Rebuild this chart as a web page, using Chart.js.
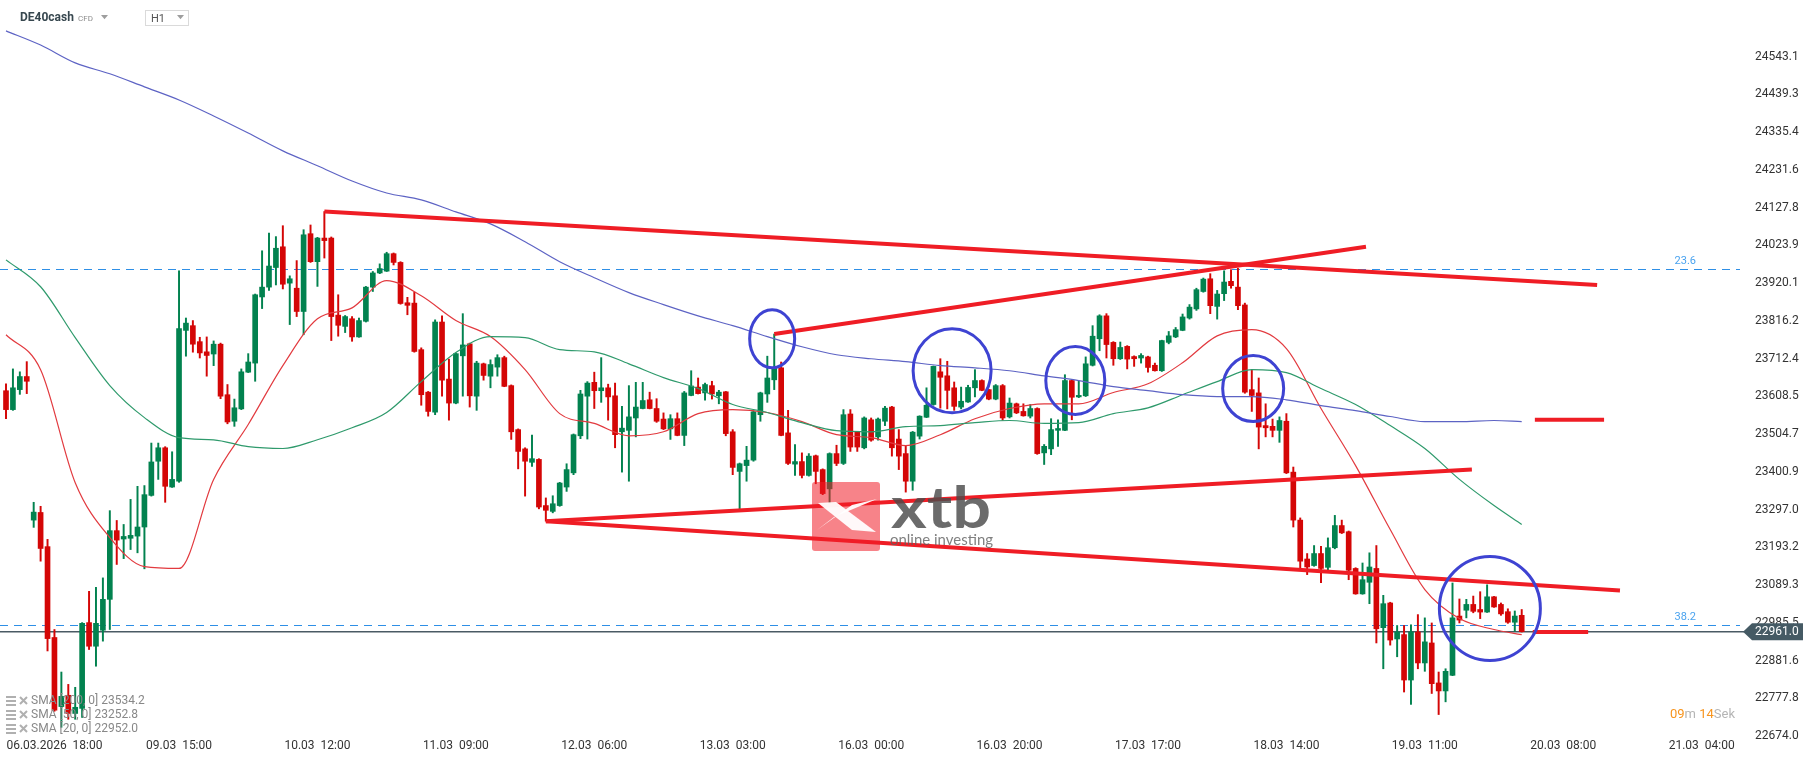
<!DOCTYPE html>
<html>
<head>
<meta charset="utf-8">
<title>DE40cash H1</title>
<script src="https://cdn.jsdelivr.net/npm/chart.js@4.4.1/dist/chart.umd.min.js"></script>
<style>
  html, body { margin: 0; padding: 0; background: #fff; overflow: hidden; }
  #wrap { width: 1815px; height: 761px; }
</style>
</head>
<body>
<div id="wrap"><canvas id="chart" width="1815" height="761"></canvas></div>
<script>
// DE40cash H1 candles (one entry per hour bar)
var opens = [
  23624, 23572, 23627, 23663, 23268, 23289, 23195, 22945, 22755, 22786,
  22736, 22750, 22986, 22921, 22965, 23050, 23239, 23216, 23218, 23224,
  23249, 23336, 23430, 23467, 23359, 23375, 23790, 23803, 23759, 23731,
  23725, 23752, 23613, 23540, 23574, 23675, 23700, 23882, 23909, 23963,
  24020, 23920, 23906, 23842, 24056, 23979, 24044, 24044, 23832, 23801,
  23822, 23772, 23815, 23909, 23948, 23953, 24001, 23977, 23866, 23865,
  23737, 23620, 23565, 23813, 23656, 23590, 23720, 23753, 23609, 23698,
  23664, 23689, 23715, 23638, 23517, 23464, 23427, 23435, 23308, 23292,
  23308, 23359, 23398, 23500, 23609, 23647, 23624, 23632, 23610, 23511,
  23515, 23549, 23575, 23599, 23575, 23546, 23519, 23547, 23501, 23611,
  23634, 23618, 23638, 23610, 23621, 23511, 23402, 23418, 23433, 23558,
  23615, 23654, 23687, 23508, 23422, 23429, 23391, 23445, 23407, 23354,
  23451, 23424, 23560, 23511, 23467, 23544, 23497, 23540, 23579, 23491,
  23451, 23375, 23499, 23551, 23586, 23676, 23665, 23632, 23579, 23593,
  23632, 23652, 23627, 23601, 23638, 23552, 23588, 23567, 23554, 23575,
  23453, 23464, 23515, 23515, 23652, 23607, 23610, 23694, 23767, 23830,
  23757, 23712, 23746, 23718, 23714, 23717, 23694, 23679, 23757, 23772,
  23790, 23824, 23849, 23897, 23932, 23856, 23891, 23925, 23909, 23860,
  23627, 23618, 23528, 23526, 23515, 23540, 23400, 23268, 23161, 23143,
  23176, 23138, 23192, 23253, 23236, 23135, 23065, 23097, 23135, 22972,
  23040, 22941, 22953, 22828, 22960, 22875, 22930, 22820, 22798, 22841,
  23004, 23020, 23036, 23022, 23015, 23057, 23036, 23016, 22987, 23006
];
var highs = [
  23643, 23684, 23676, 23704, 23317, 23306, 23215, 22967, 22850, 22816,
  22808, 22986, 23072, 23083, 23109, 23294, 23267, 23256, 23325, 23361,
  23363, 23480, 23480, 23470, 23456, 23954, 23824, 23817, 23771, 23772,
  23761, 23755, 23641, 23601, 23684, 23726, 23890, 24009, 24058, 24048,
  24078, 23940, 23982, 24067, 24080, 24046, 24117, 24047, 23888, 23831,
  23828, 23824, 23911, 23952, 23973, 24005, 24003, 23979, 23881, 23895,
  23742, 23622, 23819, 23830, 23711, 23728, 23836, 23755, 23705, 23700,
  23709, 23723, 23719, 23640, 23519, 23467, 23502, 23437, 23329, 23335,
  23372, 23423, 23505, 23625, 23649, 23675, 23715, 23642, 23645, 23581,
  23638, 23647, 23647, 23620, 23602, 23563, 23558, 23563, 23622, 23679,
  23659, 23645, 23650, 23625, 23622, 23517, 23425, 23471, 23569, 23620,
  23719, 23780, 23703, 23570, 23476, 23453, 23451, 23447, 23409, 23453,
  23474, 23572, 23572, 23512, 23552, 23549, 23549, 23581, 23581, 23517,
  23471, 23512, 23555, 23632, 23692, 23712, 23705, 23648, 23634, 23639,
  23682, 23654, 23628, 23641, 23641, 23604, 23590, 23588, 23586, 23577,
  23476, 23547, 23544, 23668, 23654, 23650, 23717, 23803, 23833, 23836,
  23759, 23758, 23748, 23720, 23726, 23719, 23700, 23763, 23787, 23798,
  23835, 23861, 23906, 23934, 23946, 23900, 23954, 23957, 23961, 23865,
  23680, 23659, 23588, 23546, 23552, 23561, 23414, 23274, 23176, 23198,
  23196, 23219, 23281, 23268, 23238, 23137, 23150, 23178, 23198, 23061,
  23042, 22978, 22978, 22980, 23008, 22999, 22985, 22850, 22859, 23095,
  23051, 23050, 23059, 23071, 23090, 23058, 23040, 23024, 23018, 23022
];
var lows = [
  23547, 23570, 23614, 23616, 23248, 23155, 22908, 22742, 22698, 22720,
  22720, 22725, 22912, 22866, 22935, 22967, 23146, 23162, 23187, 23178,
  23134, 23334, 23380, 23317, 23358, 23372, 23719, 23730, 23714, 23664,
  23693, 23602, 23533, 23526, 23572, 23674, 23650, 23850, 23900, 23915,
  23904, 23806, 23828, 23778, 23977, 23911, 23989, 23762, 23774, 23784,
  23760, 23771, 23813, 23897, 23946, 23952, 23970, 23862, 23833, 23730,
  23584, 23554, 23558, 23609, 23543, 23588, 23609, 23579, 23570, 23653,
  23632, 23664, 23635, 23490, 23409, 23334, 23416, 23299, 23265, 23288,
  23306, 23347, 23393, 23492, 23491, 23575, 23592, 23543, 23467, 23400,
  23375, 23497, 23574, 23574, 23537, 23517, 23490, 23500, 23473, 23610,
  23615, 23598, 23601, 23588, 23500, 23393, 23295, 23375, 23430, 23540,
  23592, 23627, 23500, 23421, 23391, 23384, 23389, 23368, 23338, 23311,
  23418, 23421, 23457, 23457, 23464, 23485, 23488, 23528, 23444, 23407,
  23345, 23350, 23491, 23550, 23584, 23576, 23574, 23570, 23574, 23592,
  23607, 23624, 23599, 23599, 23543, 23549, 23561, 23554, 23549, 23449,
  23421, 23448, 23471, 23514, 23544, 23605, 23608, 23692, 23734, 23714,
  23694, 23710, 23684, 23691, 23700, 23675, 23678, 23677, 23753, 23770,
  23789, 23821, 23845, 23895, 23836, 23821, 23872, 23906, 23847, 23617,
  23567, 23464, 23497, 23497, 23482, 23396, 23249, 23130, 23118, 23141,
  23096, 23125, 23189, 23231, 23104, 23064, 23064, 23038, 22930, 22859,
  22924, 22892, 22795, 22761, 22859, 22852, 22791, 22733, 22768, 22840,
  22985, 22999, 23013, 22997, 23014, 23028, 23006, 22984, 22962, 22960
];
var closes = [
  23572, 23632, 23663, 23650, 23290, 23190, 22942, 22745, 22783, 22736,
  22753, 22984, 22921, 22984, 23050, 23239, 23213, 23223, 23226, 23249,
  23338, 23428, 23467, 23361, 23380, 23795, 23810, 23752, 23728, 23721,
  23752, 23609, 23538, 23577, 23676, 23703, 23888, 23909, 23967, 24016,
  23917, 23932, 23842, 24053, 23979, 24044, 24037, 23828, 23804, 23828,
  23772, 23817, 23909, 23948, 23960, 24001, 23977, 23864, 23859, 23732,
  23613, 23567, 23813, 23653, 23590, 23726, 23750, 23610, 23700, 23666,
  23696, 23715, 23636, 23511, 23457, 23430, 23437, 23304, 23295, 23313,
  23370, 23407, 23503, 23615, 23645, 23624, 23632, 23607, 23503, 23521,
  23552, 23579, 23597, 23575, 23540, 23519, 23547, 23501, 23618, 23637,
  23616, 23641, 23615, 23620, 23506, 23413, 23423, 23433, 23566, 23618,
  23659, 23686, 23501, 23424, 23429, 23391, 23444, 23402, 23341, 23451,
  23424, 23558, 23469, 23469, 23549, 23488, 23546, 23576, 23467, 23444,
  23375, 23510, 23554, 23584, 23691, 23661, 23625, 23581, 23595, 23633,
  23652, 23625, 23601, 23638, 23549, 23590, 23563, 23555, 23575, 23451,
  23471, 23517, 23520, 23652, 23606, 23611, 23698, 23774, 23830, 23751,
  23712, 23743, 23711, 23712, 23721, 23688, 23679, 23762, 23775, 23792,
  23827, 23854, 23902, 23931, 23858, 23890, 23923, 23913, 23858, 23620,
  23611, 23524, 23522, 23515, 23542, 23398, 23268, 23155, 23139, 23176,
  23135, 23192, 23253, 23233, 23130, 23065, 23104, 23139, 22969, 23038,
  22938, 22960, 22828, 22960, 22875, 22933, 22818, 22798, 22852, 22999,
  22993, 23036, 23017, 23015, 23057, 23029, 23010, 22987, 23004, 22961
];

// moving averages as they are drawn on the screenshot (sampled every 5 bars)
var smaIdx = [0, 5, 10, 15, 20, 25, 30, 35, 40, 45, 50, 55, 60, 65, 70, 75, 80, 85, 90, 95,
  100, 105, 110, 115, 120, 125, 130, 135, 140, 145, 150, 155, 160, 165, 170, 175, 180, 185, 190, 195,
  200, 205, 210, 215, 219];
var sma20 = [23778, 23682, 23371, 23220, 23140, 23135, 23380, 23531, 23693, 23822,
  23852, 23927, 23885, 23817, 23773, 23682, 23561, 23534, 23500, 23511,
  23561, 23572, 23564, 23539, 23503, 23495, 23473, 23503, 23547, 23575,
  23588, 23588, 23619, 23643, 23701, 23775, 23792, 23740, 23575, 23418,
  23242, 23077, 22997, 22967, 22953];
var sma50 = [23984, 23910, 23770, 23638, 23550, 23495, 23489, 23470, 23465, 23489,
  23522, 23564, 23649, 23729, 23773, 23770, 23737, 23731, 23698, 23660,
  23630, 23586, 23564, 23536, 23514, 23511, 23525, 23528, 23536, 23542,
  23534, 23536, 23561, 23577, 23613, 23649, 23682, 23674, 23630, 23586,
  23528, 23465, 23380, 23308, 23256];
var sma200 = [24614, 24575, 24526, 24496, 24460, 24424, 24380, 24333, 24284, 24243,
  24201, 24168, 24149, 24116, 24083, 24034, 23979, 23935, 23894, 23861,
  23830, 23803, 23773, 23745, 23723, 23712, 23704, 23693, 23687, 23679,
  23665, 23652, 23635, 23624, 23613, 23608, 23608, 23599, 23583, 23569,
  23553, 23539, 23539, 23542, 23539];
var smaNames = ["SMA [200, 0] 23534.2", "SMA [50, 0] 23252.8", "SMA [20, 0] 22952.0"];

// axis labels
var yTicks = [22674.0, 22777.8, 22881.6, 22985.5, 23089.3, 23193.2, 23297.0, 23400.9, 23504.7, 23608.5,
  23712.4, 23816.2, 23920.1, 24023.9, 24127.8, 24231.6, 24335.4, 24439.3, 24543.1];
var xTickIdx = [7, 25, 45, 65, 85, 105, 125, 145, 165, 185, 205, 225, 245];
var xTickText = ["06.03.2026  18:00", "09.03  15:00", "10.03  12:00", "11.03  09:00", "12.03  06:00",
  "13.03  03:00", "16.03  00:00", "16.03  20:00", "17.03  17:00", "18.03  14:00", "19.03  11:00",
  "20.03  08:00", "21.03  04:00"];

// drawings on the chart (bar index / price)
var fibLevels = [23958.7, 22980.0];
var fibNames = ["23.6", "38.2"];
var lastPrice = 22961.0;
var trendStartIdx = [46, 111, 78, 78, 220.9, 220.6];
var trendStartPx = [24117, 23780, 23265, 23265, 23544, 22960];
var trendEndIdx = [229.9, 196.5, 211.8, 233.2, 230.9, 228.6];
var trendEndPx = [23915, 24020, 23407, 23074, 23544, 22960];
var circleIdx = [110.7, 136.7, 154.5, 180.2, 214.4];
var circlePrice = [23767, 23679, 23652, 23630, 23025];

var UP = "#02824f";
var DOWN = "#d40606";

Chart.defaults.font.family = "Roboto";

var candleColors = opens.map(function (o, i) {
  return closes[i] >= o ? UP : DOWN;
});

function pts(idx, vals) {
  return idx.map(function (x, k) {
    return { x: x, y: vals[k] };
  });
}

var datasets = [];

trendStartIdx.forEach(function (x, k) {
  datasets.push({
    type: "line",
    data: [{ x: x, y: trendStartPx[k] }, { x: trendEndIdx[k], y: trendEndPx[k] }],
    borderColor: "#ef1d25",
    borderWidth: 4,
    borderCapStyle: "butt",
    pointRadius: 0,
    tension: 0,
    order: 0,
  });
});

datasets.push({ type: "line", data: pts(smaIdx, sma200), borderColor: "#5d63c4", borderWidth: 1.2,
  pointRadius: 0, cubicInterpolationMode: "monotone", order: 1 });
datasets.push({ type: "line", data: pts(smaIdx, sma50), borderColor: "#2f9a6c", borderWidth: 1.2,
  pointRadius: 0, cubicInterpolationMode: "monotone", order: 1 });
datasets.push({ type: "line", data: pts(smaIdx, sma20), borderColor: "#e23a3f", borderWidth: 1.2,
  pointRadius: 0, cubicInterpolationMode: "monotone", order: 1 });

// candle bodies and wicks as floating bars
datasets.push({
  type: "bar",
  data: opens.map(function (o, i) { return { x: i, y: [o, closes[i]] }; }),
  backgroundColor: candleColors,
  borderWidth: 0,
  barThickness: 5,
  minBarLength: 1.5,
  grouped: false,
  order: 2,
});
datasets.push({
  type: "bar",
  data: opens.map(function (o, i) { return { x: i, y: [lows[i], highs[i]] }; }),
  backgroundColor: candleColors,
  borderWidth: 0,
  barThickness: 1.3,
  grouped: false,
  order: 3,
});

function triangle(ctx, x, y, w, color) {
  ctx.fillStyle = color;
  ctx.beginPath();
  ctx.moveTo(x, y);
  ctx.lineTo(x + w, y);
  ctx.lineTo(x + w / 2, y + w * 0.6);
  ctx.closePath();
  ctx.fill();
}

function fitText(ctx, text, x, y, width) {
  var w = ctx.measureText(text).width;
  ctx.save();
  ctx.translate(x, y);
  ctx.scale(width / w, 1);
  ctx.fillText(text, 0, 0);
  ctx.restore();
}

var overlay = {
  id: "overlay",
  beforeDatasetsDraw: function (chart) {
    var ctx = chart.ctx, area = chart.chartArea, ys = chart.scales.y;
    ctx.save();
    ctx.strokeStyle = "#2e8fe6";
    ctx.lineWidth = 1.2;
    ctx.setLineDash([8, 6]);
    fibLevels.forEach(function (lv) {
      var py = Math.round(ys.getPixelForValue(lv)) + 0.5;
      ctx.beginPath();
      ctx.moveTo(area.left, py);
      ctx.lineTo(area.right, py);
      ctx.stroke();
    });
    ctx.setLineDash([]);
    var pp = ys.getPixelForValue(lastPrice);
    ctx.strokeStyle = "#4a5a64";
    ctx.lineWidth = 1.5;
    ctx.beginPath();
    ctx.moveTo(area.left, pp);
    ctx.lineTo(area.right + 4, pp);
    ctx.stroke();
    ctx.restore();
  },
  afterDatasetsDraw: function (chart) {
    var ctx = chart.ctx, xs = chart.scales.x, ys = chart.scales.y;
    ctx.save();
    // xtb watermark
    ctx.fillStyle = "rgba(240, 30, 40, 0.55)";
    ctx.beginPath();
    ctx.roundRect(812, 482, 68, 69, 3);
    ctx.fill();
    ctx.fillStyle = "rgba(255, 255, 255, 0.95)";
    ctx.beginPath();
    ctx.moveTo(818, 503);
    ctx.lineTo(836, 502);
    ctx.lineTo(876, 532);
    ctx.lineTo(852, 530);
    ctx.closePath();
    ctx.fill();
    ctx.beginPath();
    ctx.moveTo(817, 530);
    ctx.lineTo(834, 517);
    ctx.lineTo(877, 499);
    ctx.lineTo(852, 505);
    ctx.closePath();
    ctx.fill();
    ctx.fillStyle = "rgba(75, 75, 75, 0.82)";
    ctx.font = "bold 58px Lato";
    ctx.textBaseline = "alphabetic";
    fitText(ctx, "xtb", 891, 528, 100);
    ctx.fillStyle = "rgba(95, 95, 95, 0.8)";
    ctx.font = "15px Lato";
    fitText(ctx, "online investing", 890, 545, 103);

    // blue circles
    var radii = [[22.5, 29], [39, 42], [29.5, 34], [30.5, 33], [50.5, 52]];
    ctx.strokeStyle = "#3e43d2";
    ctx.lineWidth = 3;
    circleIdx.forEach(function (ci, k) {
      ctx.beginPath();
      ctx.ellipse(xs.getPixelForValue(ci), ys.getPixelForValue(circlePrice[k]),
        radii[k][0], radii[k][1], 0, 0, Math.PI * 2);
      ctx.stroke();
    });
    ctx.restore();
  },
  afterDraw: function (chart) {
    var ctx = chart.ctx, area = chart.chartArea, ys = chart.scales.y;
    ctx.save();
    ctx.textBaseline = "middle";

    // fib labels
    ctx.font = "11px Roboto";
    ctx.fillStyle = "#4aa3ef";
    ctx.textAlign = "right";
    fibLevels.forEach(function (lv, k) {
      ctx.fillText(fibNames[k], 1696, ys.getPixelForValue(lv) - 8);
    });
    ctx.textAlign = "left";

    // last price tag
    var pp = ys.getPixelForValue(lastPrice);
    ctx.fillStyle = "#455a64";
    ctx.beginPath();
    ctx.moveTo(area.right + 3, pp);
    ctx.lineTo(area.right + 12, pp - 8.5);
    ctx.lineTo(1803, pp - 8.5);
    ctx.lineTo(1803, pp + 8.5);
    ctx.lineTo(area.right + 12, pp + 8.5);
    ctx.closePath();
    ctx.fill();
    ctx.fillStyle = "#ffffff";
    ctx.font = "12px Roboto";
    ctx.fillText(lastPrice.toFixed(1), 1755, pp + 0.5);

    // header
    ctx.fillStyle = "#37474f";
    ctx.font = "bold 12px Roboto";
    ctx.fillText("DE40cash", 20, 18);
    ctx.fillStyle = "#8c8c8c";
    ctx.font = "8px Roboto";
    ctx.fillText("CFD", 78, 19);
    triangle(ctx, 101, 15, 7, "#9e9e9e");
    ctx.strokeStyle = "#dadada";
    ctx.lineWidth = 1;
    ctx.strokeRect(145.5, 10.5, 43, 15);
    ctx.fillStyle = "#555";
    ctx.font = "11px Roboto";
    ctx.fillText("H1", 151, 19);
    triangle(ctx, 177, 15, 7, "#9e9e9e");

    // indicator legend
    smaNames.forEach(function (name, k) {
      var y = 701 + k * 14;
      ctx.fillStyle = "#b0b0b0";
      ctx.fillRect(6, y - 5, 10, 2);
      ctx.fillRect(6, y - 1, 10, 2);
      ctx.fillRect(6, y + 3, 10, 2);
      ctx.strokeStyle = "#b0b0b0";
      ctx.lineWidth = 2;
      ctx.beginPath();
      ctx.moveTo(20, y - 4);
      ctx.lineTo(27, y + 3);
      ctx.moveTo(27, y - 4);
      ctx.lineTo(20, y + 3);
      ctx.stroke();
      ctx.fillStyle = "#888";
      ctx.font = "12px Roboto";
      ctx.fillText(name, 31, y);
    });

    // countdown
    ctx.font = "13px Roboto";
    var x = 1670;
    [["09", "#f7941d"], ["m ", "#b5b5b5"], ["14", "#f7941d"], ["Sek", "#b5b5b5"]].forEach(function (p) {
      ctx.fillStyle = p[1];
      ctx.fillText(p[0], x, 715);
      x += ctx.measureText(p[0]).width;
    });
    ctx.restore();
  },
};

new Chart(document.getElementById("chart"), {
  type: "bar",
  data: { datasets: datasets },
  options: {
    responsive: false,
    animation: false,
    layout: { padding: 0 },
    plugins: { legend: { display: false }, tooltip: { enabled: false } },
    scales: {
      x: {
        type: "linear",
        min: -0.867,
        max: 250.54,
        offset: false,
        grid: { display: false, drawTicks: false },
        border: { display: false },
        afterBuildTicks: function (s) {
          s.ticks = xTickIdx.map(function (v) { return { value: v }; });
        },
        afterFit: function (s) {
          s.height = 25;
          s.paddingLeft = 0;
          s.paddingRight = 0;
        },
        ticks: {
          autoSkip: false,
          maxRotation: 0,
          padding: 3,
          color: "#333",
          font: { size: 12 },
          callback: function (v, k) { return xTickText[k]; },
        },
      },
      y: {
        position: "right",
        min: 22674,
        max: 24699,
        grid: { display: false, drawTicks: false },
        border: { display: false },
        afterBuildTicks: function (s) {
          s.ticks = yTicks.map(function (v) { return { value: v }; });
        },
        afterFit: function (s) {
          s.width = 75;
          s.paddingTop = 0;
          s.paddingBottom = 0;
        },
        ticks: {
          autoSkip: false,
          padding: 15,
          color: "#333",
          font: { size: 12 },
          callback: function (v) { return v.toFixed(1); },
        },
      },
    },
  },
  plugins: [overlay],
});
</script>
</body>
</html>
